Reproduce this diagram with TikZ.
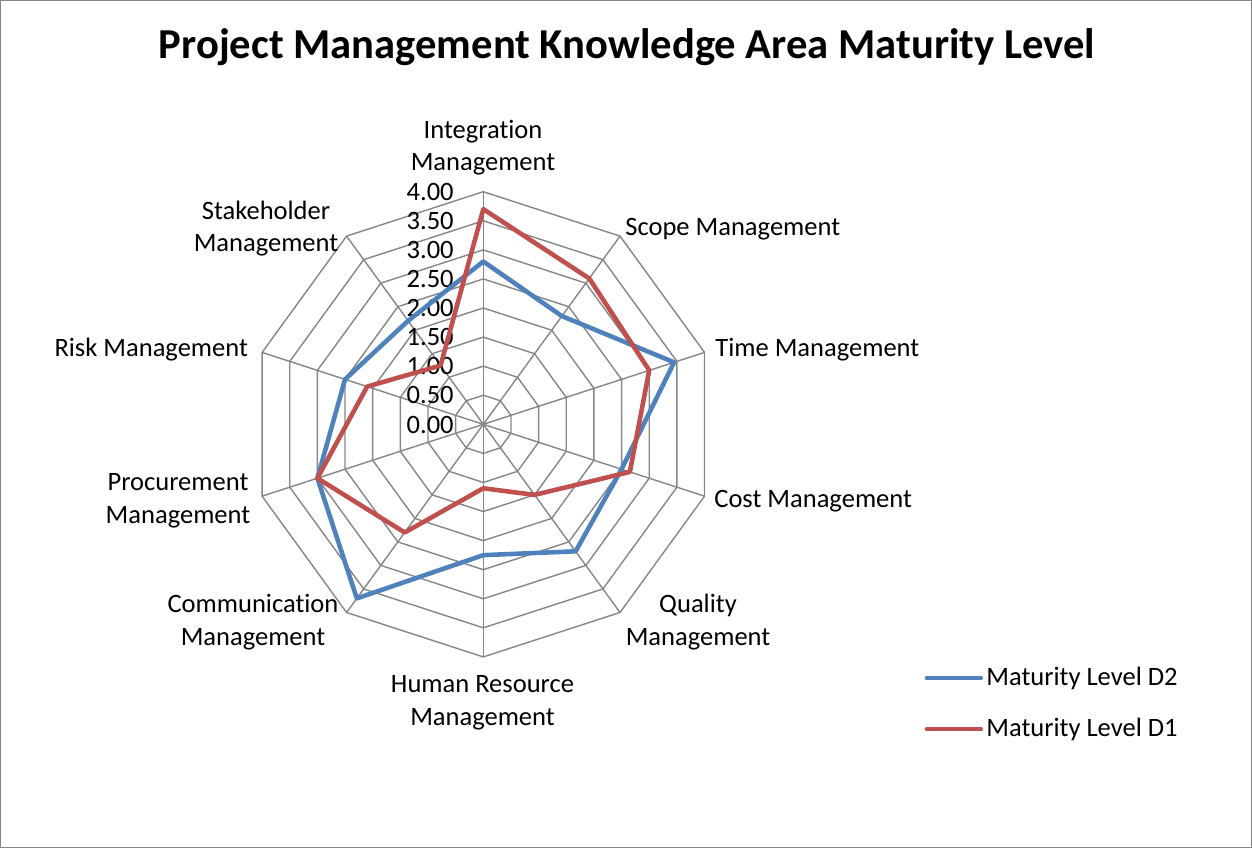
\documentclass[tikz,border=0pt]{standalone}
\usepackage{fontspec}
\setmainfont{Carlito}[Ligatures={NoCommon}]
\usetikzlibrary{calc}

\definecolor{dtwoblue}{HTML}{4F81BD}
\definecolor{donered}{HTML}{C0504D}
\definecolor{webgray}{HTML}{868686}

\tikzset{
  web/.style={draw=webgray, line width=0.8pt},
  series/.style={line width=2.6pt, line join=round},
  keyline/.style={line width=2.3pt, line cap=round},
  axislabel/.style={font=\fontsize{15.1}{18.6}\selectfont, align=center, inner sep=0pt},
  ticklabel/.style={font=\fontsize{15.1}{18.6}\selectfont, anchor=base east, inner sep=0pt},
}

\begin{document}
\begin{tikzpicture}
\useasboundingbox (0,0) rectangle (25.04,16.96);
\draw [webgray, line width=0.6pt] (0.01,0.01) rectangle (25.03,16.95);

\node [font=\bfseries\fontsize{24.25}{30}\selectfont, anchor=base, inner sep=0pt] (title) at (12.54,15.78) {Project Management Knowledge Area Maturity Level};

\begin{scope}[shift={(9.666,8.474)}]
\coordinate (C) at (0,0);
% spokes and rings, 0.5 per ring
\foreach \i in {0,...,9} {
  \coordinate (a\i) at ({90-36*\i}:4.652);
  \draw [web] (C) -- (a\i);
}
\foreach \k in {1,...,8}
  \draw [web] (90:{\k*0.5815}) \foreach \i in {1,...,9} { -- ({90-36*\i}:{\k*0.5815}) } -- cycle;

\foreach \k/\t in {0/0.00,1/0.50,2/1.00,3/1.50,4/2.00,5/2.50,6/3.00,7/3.50,8/4.00}
  \node [ticklabel] (t\k) at (-0.586,{\k*0.5815-0.174}) {\t};

% data
\foreach \v [count=\i from 0] in {2.8,2.3,3.45,2.5,2.7,2.25,3.7,3.0,2.5,2.2}
  \coordinate (dtwo\i) at ({90-36*\i}:{\v*1.163});
\foreach \v [count=\i from 0] in {3.7,3.1,3.0,2.65,1.5,1.1,2.3,3.0,2.1,1.25}
  \coordinate (done\i) at ({90-36*\i}:{\v*1.163});
\draw [series, dtwoblue] (dtwo0) \foreach \i in {1,...,9} { -- (dtwo\i) } -- cycle;
\draw [series, donered] (done0) \foreach \i in {1,...,9} { -- (done\i) } -- cycle;
\end{scope}

% axis names (base = last line)
\node [axislabel, anchor=base] (integ) at (9.66,13.54) {Integration\\Management};
\node [axislabel, anchor=base west] (scope) at (12.5,12.26) {Scope Management};
\node [axislabel, anchor=base west] (time) at (14.3,9.826) {Time Management};
\node [axislabel, anchor=base west] (cost) at (14.28,6.82) {Cost Management};
\node [axislabel, anchor=base] (quality) at (13.96,4.06) {Quality\\Management};
\node [axislabel, anchor=base] (hr) at (9.65,2.46) {Human Resource\\Management};
\node [axislabel, anchor=base] (comm) at (5.06,4.06) {Communication\\Management};
\node [axislabel, anchor=base] (proc) at (3.56,6.494) {Procurement\\Management};
\node [axislabel, anchor=base east] (risk) at (4.966,9.826) {Risk Management};
\node [axislabel, anchor=base] (stake) at (5.32,11.926) {Stakeholder\\Management};

% legend
\coordinate (ktwoa) at (18.534,3.394);
\coordinate (ktwob) at (19.62,3.394);
\coordinate (konea) at (18.534,2.374);
\coordinate (koneb) at (19.62,2.374);
\draw [keyline, dtwoblue] (ktwoa) -- (ktwob);
\draw [keyline, donered] (konea) -- (koneb);
\node [axislabel, anchor=base west] (ktwo) at (19.72,3.26) {Maturity Level D2};
\node [axislabel, anchor=base west] (kone) at (19.72,2.24) {Maturity Level D1};
\end{tikzpicture}
\end{document}
